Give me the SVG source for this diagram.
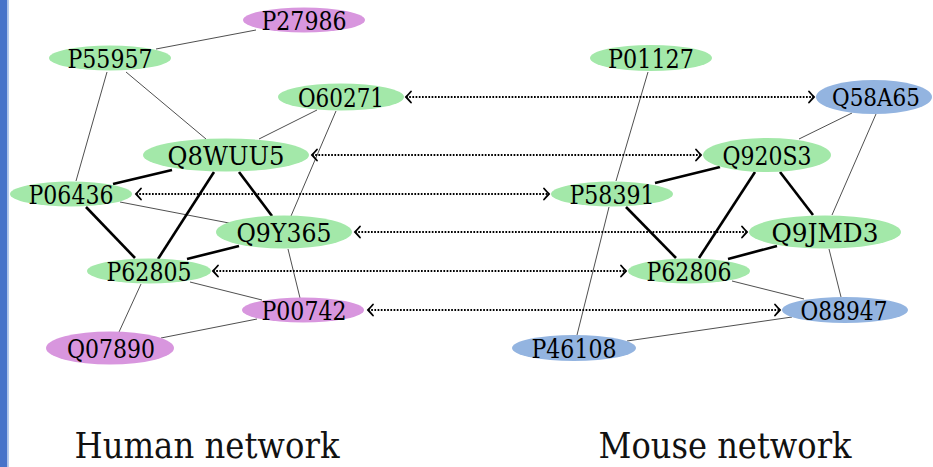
<svg xmlns="http://www.w3.org/2000/svg" width="933" height="467" viewBox="0 0 933 467">
  <style>
    .g { fill: #a3e8a9; }
    .p { fill: #d896de; }
    .b { fill: #93b4e0; }
    .lbl { font-family: "DejaVu Serif", "Liberation Serif", serif; font-size: 26px; fill: #000; text-anchor: middle; }
    .title { font-family: "DejaVu Serif", "Liberation Serif", serif; font-size: 35px; fill: #111; text-anchor: middle; }
    .thin { stroke: #222; stroke-width: 0.8; fill: none; }
    .thick { stroke: #000; stroke-width: 2.6; fill: none; }
    .map { stroke: #000; stroke-width: 2; stroke-dasharray: 1.7 1.5; fill: none; marker-start: url(#tip); marker-end: url(#tip); }
  </style>
  <defs>
    <marker id="tip" viewBox="-8 -7 10 14" markerWidth="10" markerHeight="14" markerUnits="userSpaceOnUse" orient="auto-start-reverse" refX="0" refY="0">
      <path d="M-5,-5.5 Q-1.5,-1.5 0,0 Q-1.5,1.5 -5,5.5" stroke="#000" stroke-width="1.8" fill="none" stroke-linecap="round"/>
    </marker>
  </defs>

  <rect width="933" height="467" fill="#fff"/>
  <!-- side bar -->
  <rect x="0" y="0" width="7.5" height="467" fill="#4773c9"/>
  <rect x="7.5" y="0" width="1.5" height="467" fill="#b9cdee"/>

  <g id="connectors">
    <!-- human network -->
    <line class="thin" x1="256" y1="30" x2="156" y2="49"/>
    <line class="thin" x1="107" y1="72" x2="76" y2="181"/>
    <line class="thin" x1="126" y1="72" x2="206" y2="139"/>
    <line class="thin" x1="317" y1="110" x2="259" y2="139"/>
    <line class="thin" x1="336" y1="111" x2="291" y2="216"/>
    <line class="thin" x1="120" y1="202" x2="229" y2="223"/>
    <line class="thin" x1="288" y1="249" x2="300" y2="298"/>
    <line class="thin" x1="190" y1="282" x2="262" y2="300"/>
    <line class="thin" x1="141" y1="284" x2="119" y2="332"/>
    <line class="thin" x1="161" y1="338" x2="257" y2="319"/>
    <line class="thick" x1="172" y1="170" x2="113" y2="184"/>
    <line class="thick" x1="214" y1="172" x2="158" y2="259"/>
    <line class="thick" x1="239" y1="172" x2="272" y2="216"/>
    <line class="thick" x1="86" y1="207" x2="135" y2="258"/>
    <line class="thick" x1="239" y1="246" x2="187" y2="259"/>
    <!-- mouse network -->
    <line class="thin" x1="648" y1="72" x2="616" y2="181"/>
    <line class="thin" x1="852" y1="113" x2="799" y2="139"/>
    <line class="thin" x1="876" y1="114" x2="832" y2="215"/>
    <line class="thin" x1="829" y1="249" x2="841" y2="297"/>
    <line class="thin" x1="732" y1="281" x2="804" y2="299"/>
    <line class="thin" x1="609" y1="207" x2="577" y2="335"/>
    <line class="thin" x1="627" y1="341" x2="792" y2="317"/>
    <line class="thick" x1="655" y1="183" x2="720" y2="167"/>
    <line class="thick" x1="780" y1="172" x2="813" y2="215"/>
    <line class="thick" x1="755" y1="172" x2="699" y2="258"/>
    <line class="thick" x1="626" y1="207" x2="676" y2="258"/>
    <line class="thick" x1="728" y1="259" x2="777" y2="246"/>
    <!-- orthology mappings -->
    <line class="map" x1="406" y1="97" x2="814" y2="97"/>
    <line class="map" x1="312" y1="155" x2="701" y2="155"/>
    <line class="map" x1="136" y1="194" x2="549" y2="194"/>
    <line class="map" x1="355" y1="232" x2="747" y2="232"/>
    <line class="map" x1="213" y1="271" x2="626" y2="271"/>
    <line class="map" x1="368" y1="310" x2="780" y2="310"/>
  </g>

  <!-- human nodes -->
  <g id="P27986"><ellipse class="p" cx="304" cy="20" rx="61" ry="12.5"/><text class="lbl" x="304" y="29.5" textLength="85" lengthAdjust="spacingAndGlyphs">P27986</text></g>
  <g id="P55957"><ellipse class="g" cx="110" cy="58" rx="61" ry="12.5"/><text class="lbl" x="110" y="67.5" textLength="85" lengthAdjust="spacingAndGlyphs">P55957</text></g>
  <g id="O60271"><ellipse class="g" cx="341" cy="97" rx="63" ry="13.5"/><text class="lbl" x="341" y="106.5" textLength="86" lengthAdjust="spacingAndGlyphs">O60271</text></g>
  <g id="Q8WUU5"><ellipse class="g" cx="226" cy="155" rx="83" ry="16.5"/><text class="lbl" x="226" y="164.5" textLength="117" lengthAdjust="spacingAndGlyphs">Q8WUU5</text></g>
  <g id="P06436"><ellipse class="g" cx="71" cy="194" rx="61" ry="12.5"/><text class="lbl" x="71" y="203.5" textLength="85" lengthAdjust="spacingAndGlyphs">P06436</text></g>
  <g id="Q9Y365"><ellipse class="g" cx="284" cy="232" rx="68" ry="16.5"/><text class="lbl" x="284" y="241.5" textLength="95" lengthAdjust="spacingAndGlyphs">Q9Y365</text></g>
  <g id="P62805"><ellipse class="g" cx="149" cy="271" rx="62" ry="12.5"/><text class="lbl" x="149" y="280.5" textLength="85" lengthAdjust="spacingAndGlyphs">P62805</text></g>
  <g id="P00742"><ellipse class="p" cx="303" cy="310" rx="61" ry="12.5"/><text class="lbl" x="304" y="319.5" textLength="85" lengthAdjust="spacingAndGlyphs">P00742</text></g>
  <g id="Q07890"><ellipse class="p" cx="110" cy="348" rx="64" ry="16.5"/><text class="lbl" x="111" y="357.5" textLength="88" lengthAdjust="spacingAndGlyphs">Q07890</text></g>

  <!-- mouse nodes -->
  <g id="P01127"><ellipse class="g" cx="651" cy="58" rx="61" ry="13"/><text class="lbl" x="651" y="67.5" textLength="86" lengthAdjust="spacingAndGlyphs">P01127</text></g>
  <g id="Q58A65"><ellipse class="b" cx="874" cy="97" rx="58" ry="17"/><text class="lbl" x="876" y="106" textLength="88" lengthAdjust="spacingAndGlyphs" style="font-size:24px">Q58A65</text></g>
  <g id="Q920S3"><ellipse class="g" cx="767" cy="155" rx="64" ry="17"/><text class="lbl" x="767" y="164.5" textLength="89" lengthAdjust="spacingAndGlyphs">Q920S3</text></g>
  <g id="P58391"><ellipse class="g" cx="612" cy="194" rx="61" ry="12.5"/><text class="lbl" x="612" y="203.5" textLength="85" lengthAdjust="spacingAndGlyphs">P58391</text></g>
  <g id="Q9JMD3"><ellipse class="g" cx="825" cy="232" rx="76" ry="16.5"/><text class="lbl" x="825" y="241.5" textLength="107" lengthAdjust="spacingAndGlyphs">Q9JMD3</text></g>
  <g id="P62806"><ellipse class="g" cx="689" cy="271" rx="61" ry="12.5"/><text class="lbl" x="689" y="280.5" textLength="85" lengthAdjust="spacingAndGlyphs">P62806</text></g>
  <g id="O88947"><ellipse class="b" cx="845" cy="310" rx="63" ry="13"/><text class="lbl" x="844" y="319.5" textLength="87" lengthAdjust="spacingAndGlyphs">O88947</text></g>
  <g id="P46108"><ellipse class="b" cx="574" cy="348" rx="62" ry="13"/><text class="lbl" x="574" y="357.5" textLength="85" lengthAdjust="spacingAndGlyphs">P46108</text></g>

  <text class="title" x="207" y="458" textLength="265" lengthAdjust="spacingAndGlyphs">Human network</text>
  <text class="title" x="725" y="458" textLength="253" lengthAdjust="spacingAndGlyphs">Mouse network</text>
</svg>
